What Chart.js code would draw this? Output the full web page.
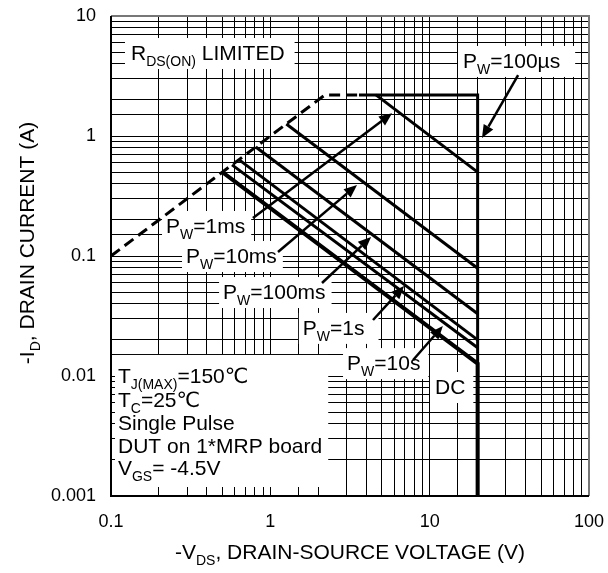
<!DOCTYPE html>
<html>
<head>
<meta charset="utf-8">
<script src="https://cdn.jsdelivr.net/npm/chart.js@4/dist/chart.umd.min.js"></script>
<style>
  html, body { margin: 0; padding: 0; background: #fff; }
  #wrap { width: 608px; height: 573px; position: relative; }
</style>
</head>
<body>
<div id="wrap"><canvas id="soa"></canvas></div>
<script>
// Safe operating area: -ID vs -VDS, log-log
const xTickLabels = ['0.1', '1', '10', '100'];
const yTickLabels = ['0.001', '0.01', '0.1', '1', '10'];

// RDS(ON) limit (dashed)
const rdsLimitV = [0.1, 2.2, 3.6];
const rdsLimitI = [0.1, 2.2, 2.2];
// Pulse-width boundaries
const pw100usV = [3.6, 20, 20];
const pw100usI = [2.2, 2.2, 0.001];
const pw1msV = [4.6, 20];
const pw1msI = [2.2, 0.5];
const pw10msV = [1.26, 20];
const pw10msI = [1.26, 0.079];
const pw100msV = [0.81, 20];
const pw100msI = [0.81, 0.033];
const pw1sV = [0.635, 20];
const pw1sI = [0.635, 0.02];
const pw10sV = [0.575, 20];
const pw10sI = [0.575, 0.0172];
const dcV = [0.5, 20, 20];
const dcI = [0.5, 0.0127, 0.001];

const FONT = "'Liberation Sans', Arial, 'DejaVu Sans', sans-serif";

function pts(xs, ys) { return xs.map((v, i) => ({ x: v, y: ys[i] })); }

function curve(xs, ys, width, dash) {
  return {
    data: pts(xs, ys),
    borderColor: '#000',
    backgroundColor: '#000',
    borderWidth: width,
    borderDash: dash || [],
    borderJoinStyle: 'miter',
    borderCapStyle: 'butt',
    pointRadius: 0,
    fill: false,
    tension: 0,
    showLine: true
  };
}

// Labels: text parts [text, isSubscript], anchor (V, I) = left baseline
const notes = [
  { parts: [['R', 0], ['DS(ON)', 1], [' LIMITED', 0]], at: [0.1335, 4.3], pad: [6, 10] },
  { parts: [['P', 0], ['W', 1], ['=100µs', 0]], at: [16.2, 3.69], pad: [5, 15] },
  { parts: [['P', 0], ['W', 1], ['=1ms', 0]], at: [0.2215, 0.1555], pad: [4, 6] },
  { parts: [['P', 0], ['W', 1], ['=10ms', 0]], at: [0.2957, 0.0874], pad: [4, 6] },
  { parts: [['P', 0], ['W', 1], ['=100ms', 0]], at: [0.505, 0.0438], pad: [4, 6] },
  { parts: [['P', 0], ['W', 1], ['=1s', 0]], at: [1.60, 0.0220], pad: [4, 14] },
  { parts: [['P', 0], ['W', 1], ['=10s', 0]], at: [3.03, 0.0112], pad: [4, 8] },
  { parts: [['DC', 0]], at: [10.8, 0.00708], pad: [5, 8] }
];

const conditions = [
  { parts: [['T', 0], ['J(MAX)', 1], ['=150℃', 0]], at: [0.1106, 0.00875] },
  { parts: [['T', 0], ['C', 1], ['=25℃', 0]], at: [0.1106, 0.00552] },
  { parts: [['Single Pulse', 0]], at: [0.1106, 0.00355] },
  { parts: [['DUT on 1*MRP board', 0]], at: [0.1106, 0.00228] },
  { parts: [['V', 0], ['GS', 1], ['= -4.5V', 0]], at: [0.1106, 0.0015] }
];

// Arrows: tail (V, I) -> tip (V, I)
const arrows = [
  [[35.9, 3.22], [21.3, 0.962]],
  [[0.778, 0.207], [5.81, 1.55]],
  [[1.117, 0.108], [3.50, 0.391]],
  [[2.11, 0.0596], [4.29, 0.144]],
  [[4.41, 0.0293], [6.91, 0.0562]],
  [[7.87, 0.0136], [12.1, 0.0261]]
];

const MAIN = 21, SUB = 14, SUB_DROP = 6;

function richWidth(ctx, parts) {
  let w = 0;
  for (const [t, s] of parts) {
    ctx.font = (s ? SUB : MAIN) + 'px ' + FONT;
    w += ctx.measureText(t).width;
  }
  return w;
}
function drawRich(ctx, parts, x, y) {
  ctx.textBaseline = 'alphabetic';
  ctx.textAlign = 'left';
  for (const [t, s] of parts) {
    ctx.font = (s ? SUB : MAIN) + 'px ' + FONT;
    ctx.fillText(t, x, y + (s ? SUB_DROP : 0));
    x += ctx.measureText(t).width;
  }
}

const annotate = {
  id: 'annotate',
  beforeDatasetsDraw(chart) {
    const ctx = chart.ctx, xs = chart.scales.x, ys = chart.scales.y, a = chart.chartArea;
    ctx.save();
    ctx.fillStyle = '#000';
    // conditions block on a white panel
    let maxR = 0;
    const lines = conditions.map(c => {
      const x = xs.getPixelForValue(c.at[0]), y = ys.getPixelForValue(c.at[1]);
      maxR = Math.max(maxR, x + richWidth(ctx, c.parts));
      return { c, x, y };
    });
    ctx.fillStyle = '#fff';
    ctx.fillRect(a.left + 4, lines[0].y - 28, maxR + 6 - (a.left + 4), a.bottom - 9 - (lines[0].y - 28));
    ctx.fillStyle = '#000';
    lines.forEach(l => drawRich(ctx, l.c.parts, l.x, l.y));
    // curve labels
    for (const n of notes) {
      const x = xs.getPixelForValue(n.at[0]), y = ys.getPixelForValue(n.at[1]);
      const w = richWidth(ctx, n.parts);
      ctx.fillStyle = '#fff';
      ctx.fillRect(x - n.pad[0], y - 22, w + n.pad[0] + n.pad[1], 31);
      ctx.fillStyle = '#000';
      drawRich(ctx, n.parts, x, y);
    }
    ctx.restore();
  },
  afterDatasetsDraw(chart) {
    const ctx = chart.ctx, xs = chart.scales.x, ys = chart.scales.y, a = chart.chartArea;
    ctx.save();
    ctx.strokeStyle = '#000';
    ctx.fillStyle = '#000';
    ctx.lineWidth = 2.5;
    for (const [t, h] of arrows) {
      const x0 = xs.getPixelForValue(t[0]), y0 = ys.getPixelForValue(t[1]);
      const x1 = xs.getPixelForValue(h[0]), y1 = ys.getPixelForValue(h[1]);
      const ang = Math.atan2(y1 - y0, x1 - x0);
      const L = 13, W = 5.5;
      const bx = x1 - L * Math.cos(ang), by = y1 - L * Math.sin(ang);
      ctx.beginPath();
      ctx.moveTo(x0, y0);
      ctx.lineTo(bx, by);
      ctx.stroke();
      ctx.beginPath();
      ctx.moveTo(x1, y1);
      ctx.lineTo(bx + W * Math.sin(ang), by - W * Math.cos(ang));
      ctx.lineTo(bx - W * Math.sin(ang), by + W * Math.cos(ang));
      ctx.closePath();
      ctx.fill();
    }
    // plot frame
    ctx.lineWidth = 2;
    ctx.strokeStyle = '#777';
    ctx.beginPath();
    ctx.moveTo(a.left, a.top); ctx.lineTo(a.right, a.top); ctx.lineTo(a.right, a.bottom);
    ctx.stroke();
    ctx.strokeStyle = '#000';
    ctx.beginPath();
    ctx.moveTo(a.left, a.top); ctx.lineTo(a.left, a.bottom); ctx.lineTo(a.right, a.bottom);
    ctx.stroke();
    ctx.restore();
  },
  afterDraw(chart) {
    const ctx = chart.ctx, a = chart.chartArea;
    ctx.save();
    ctx.fillStyle = '#000';
    // x title
    const xt = [['-V', 0], ['DS', 1], [', DRAIN-SOURCE VOLTAGE (V)', 0]];
    const xw = richWidth(ctx, xt);
    drawRich(ctx, xt, (a.left + a.right) / 2 - xw / 2, 559);
    // y title
    const yt = [['-I', 0], ['D', 1], [', DRAIN CURRENT (A)', 0]];
    const yw = richWidth(ctx, yt);
    ctx.translate(34, 243);
    ctx.rotate(-Math.PI / 2);
    drawRich(ctx, yt, -yw / 2, 0);
    ctx.restore();
  }
};

function tickLabel(list) {
  return function (v) {
    for (const s of list) {
      if (Math.abs(Number(s) - v) < Number(s) * 1e-6) return s;
    }
    return '';
  };
}

new Chart(document.getElementById('soa'), {
  type: 'line',
  data: {
    datasets: [
      curve(rdsLimitV, rdsLimitI, 3, [11, 6]),
      curve(pw100usV, pw100usI, 3),
      curve(pw1msV, pw1msI, 3),
      curve(pw10msV, pw10msI, 3),
      curve(pw100msV, pw100msI, 3),
      curve(pw1sV, pw1sI, 3),
      curve(pw10sV, pw10sI, 3),
      curve(dcV, dcI, 4)
    ]
  },
  options: {
    responsive: true,
    maintainAspectRatio: false,
    animation: false,
    events: [],
    layout: { padding: { left: 0, right: 19, top: 16, bottom: 0 } },
    plugins: { legend: { display: false }, tooltip: { enabled: false } },
    scales: {
      x: {
        type: 'logarithmic',
        min: 0.1, max: 100,
        grid: { color: '#000', lineWidth: 1, drawTicks: false },
        border: { display: false },
        ticks: {
          autoSkip: false, maxRotation: 0, padding: 15,
          color: '#000', font: { family: FONT, size: 18 },
          callback: tickLabel(xTickLabels)
        },
        afterFit(s) { s.height = 77; s.paddingLeft = 0; s.paddingRight = 0; }
      },
      y: {
        type: 'logarithmic',
        min: 0.001, max: 10,
        grid: { color: '#000', lineWidth: 1, drawTicks: false },
        border: { display: false },
        ticks: {
          autoSkip: false, padding: 15,
          color: '#000', font: { family: FONT, size: 18 },
          callback: tickLabel(yTickLabels)
        },
        afterFit(s) { s.width = 111; s.paddingTop = 0; s.paddingBottom = 0; }
      }
    }
  },
  plugins: [annotate]
});
</script>
</body>
</html>
